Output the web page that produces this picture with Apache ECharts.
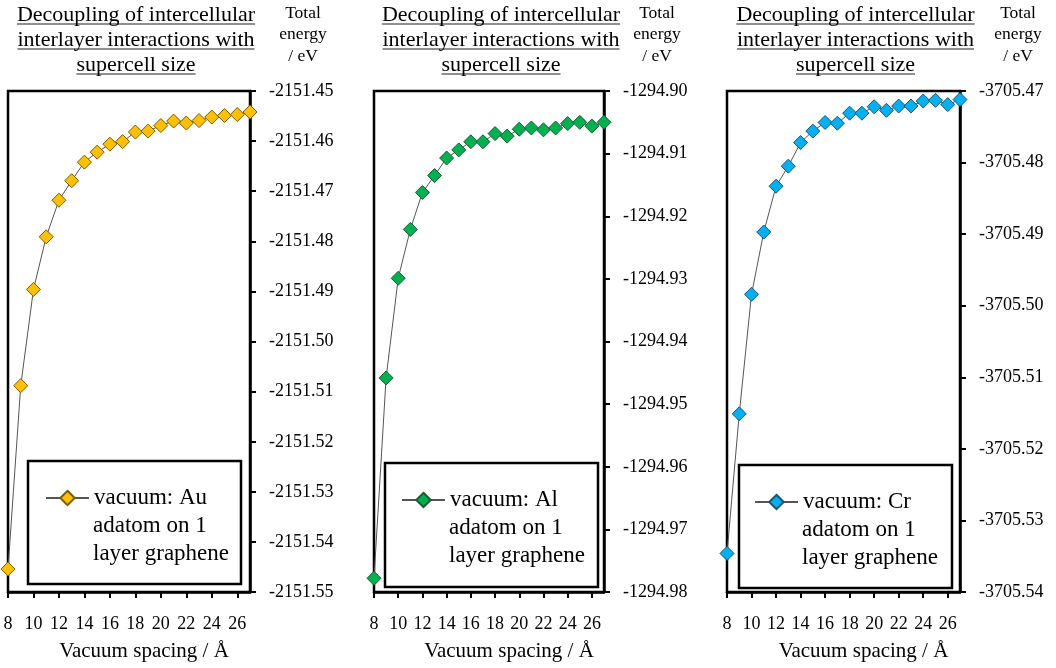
<!DOCTYPE html>
<html>
<head>
<meta charset="utf-8">
<script src="https://cdn.jsdelivr.net/npm/echarts@6/dist/echarts.min.js"></script>
<style>
  html, body { margin: 0; padding: 0; background: #fff; }
  #chart { width: 1056px; height: 668px; }
</style>
</head>
<body>
<div id="chart"></div>
<script>
// Vacuum spacing (Å) and total energies (eV) for each adatom system
const spacing = [8, 9, 10, 11, 12, 13, 14, 15, 16, 17, 18, 19, 20, 21, 22, 23, 24, 25, 26, 27];
const energyAu = [-2151.5454, -2151.5088, -2151.4896, -2151.4791, -2151.4718, -2151.4679, -2151.4642, -2151.4622, -2151.4606, -2151.4601,
                  -2151.4582, -2151.4580, -2151.4569, -2151.4560, -2151.4564, -2151.4559, -2151.4552, -2151.4549, -2151.4547, -2151.4542];
const energyAl = [-1294.9778, -1294.9458, -1294.9299, -1294.9221, -1294.9162, -1294.9135, -1294.9107, -1294.9094, -1294.9081, -1294.9081,
                  -1294.9068, -1294.9072, -1294.9061, -1294.9059, -1294.9062, -1294.9059, -1294.9052, -1294.9050, -1294.9056, -1294.9050];
const energyCr = [-3705.5346, -3705.5151, -3705.4984, -3705.4897, -3705.4833, -3705.4805, -3705.4772, -3705.4756, -3705.4744, -3705.4745,
                  -3705.4731, -3705.4731, -3705.4722, -3705.4727, -3705.4721, -3705.4721, -3705.4714, -3705.4713, -3705.4719, -3705.4712];

// Axis ranges [min, max, step]
const xRange = [8, 27, 2];
const yRangeAu = [-2151.55, -2151.45, 0.01];
const yRangeAl = [-1294.98, -1294.90, 0.01];
const yRangeCr = [-3705.54, -3705.47, 0.01];

// Texts
const titleLines = ['Decoupling of intercellular', 'interlayer interactions with', 'supercell size'];
const yAxisNameLines = ['Total', 'energy', '/ eV'];
const xAxisName = 'Vacuum spacing / Å';
const legendAu = ['vacuum: Au', 'adatom on 1', 'layer graphene'];
const legendAl = ['vacuum: Al', 'adatom on 1', 'layer graphene'];
const legendCr = ['vacuum: Cr', 'adatom on 1', 'layer graphene'];

const FONT = "'Liberation Serif', 'Times New Roman', serif";

// Per-panel layout and styling
const panels = [
  { data: energyAu, yRange: yRangeAu, legend: legendAu, color: '#FFC000', edge: '#7a5c00',
    grid: { left: 8, top: 91, width: 242, height: 502 }, titleX: 136, yNameShift: 53, xNameShift: 15,
    box: [28, 461, 213, 123], iconX: 45, iconY: 498 },
  { data: energyAl, yRange: yRangeAl, legend: legendAl, color: '#00B050', edge: '#1d5a32',
    grid: { left: 374, top: 91, width: 230, height: 504 }, titleX: 501, yNameShift: 53, xNameShift: 20,
    box: [385, 463, 213, 124], iconX: 401, iconY: 500 },
  { data: energyCr, yRange: yRangeCr, legend: legendCr, color: '#00B0F0', edge: '#1d5470',
    grid: { left: 727, top: 91, width: 233, height: 504 }, titleX: 855.5, yNameShift: 58, xNameShift: 20,
    box: [739, 465, 213, 123], iconX: 754, iconY: 502 }
];

const TITLE_SIZE = 22, TITLE_LH = 25, TITLE_TOP = 2.5;
const LEGEND_SIZE = 23, LEGEND_LH = 28;

const measureCtx = document.createElement('canvas').getContext('2d');
function textWidth(str, size) {
  measureCtx.font = size + "px 'Liberation Serif'";
  return measureCtx.measureText(str).width;
}

const grids = [], xAxes = [], yAxes = [], series = [], titles = [], legends = [], graphics = [];

panels.forEach((p, i) => {
  grids.push(Object.assign({ show: true, borderColor: '#000', borderWidth: 2.5, backgroundColor: 'transparent' }, p.grid));

  xAxes.push({
    type: 'value', gridIndex: i, min: xRange[0], max: xRange[1], interval: xRange[2],
    position: 'bottom',
    name: xAxisName, nameLocation: 'middle', nameGap: 43,
    nameTextStyle: { fontFamily: FONT, fontSize: 21, lineHeight: 24, color: '#000',
                     align: 'center', padding: [0, 0, 0, p.xNameShift * 2] },
    axisLine: { show: true, lineStyle: { color: '#000', width: 2.5 } },
    axisTick: { show: true, inside: false, length: 6, lineStyle: { color: '#000', width: 2 } },
    axisLabel: { fontFamily: FONT, fontSize: 18, lineHeight: 20, color: '#000', margin: 22,
                 showMaxLabel: false, showMinLabel: true },
    splitLine: { show: false }
  });

  yAxes.push({
    type: 'value', gridIndex: i, min: p.yRange[0], max: p.yRange[1], interval: p.yRange[2],
    position: 'right',
    name: yAxisNameLines.join('\n'), nameLocation: 'end', nameGap: 24,
    nameTextStyle: { fontFamily: FONT, fontSize: 17.5, lineHeight: 21.5, color: '#000',
                     align: 'center', verticalAlign: 'bottom', padding: [0, 0, 0, p.yNameShift * 2] },
    axisLine: { show: true, lineStyle: { color: '#000', width: 2.5 } },
    axisTick: { show: true, inside: false, length: 6, lineStyle: { color: '#000', width: 2 } },
    axisLabel: { fontFamily: FONT, fontSize: 18, color: '#000', margin: 19,
                 formatter: v => v.toFixed(2) },
    splitLine: { show: false }
  });

  const seriesName = p.legend.join(' ');
  series.push({
    type: 'line', name: seriesName, xAxisIndex: i, yAxisIndex: i,
    data: spacing.map((x, j) => [x, p.data[j]]),
    symbol: 'diamond', symbolSize: 14, showAllSymbol: true, clip: false,
    itemStyle: { color: p.color, borderColor: p.edge, borderWidth: 1 },
    lineStyle: { color: '#555', width: 1 },
    z: 3
  });

  titles.push({
    text: titleLines.join('\n'), left: p.titleX, top: TITLE_TOP, textAlign: 'center', padding: 0,
    textStyle: { fontFamily: FONT, fontSize: TITLE_SIZE, lineHeight: TITLE_LH, fontWeight: 'normal', color: '#000' }
  });
  // underline under every title line
  titleLines.forEach((line, k) => {
    const w = textWidth(line, TITLE_SIZE);
    const y = TITLE_TOP + TITLE_LH * k + TITLE_LH / 2 + 9;
    graphics.push({ type: 'line', shape: { x1: p.titleX - w / 2, y1: y, x2: p.titleX + w / 2, y2: y },
                    style: { stroke: '#222', lineWidth: 1.2 }, silent: true });
  });

  legends.push({
    data: [seriesName], left: p.iconX, top: p.iconY - LEGEND_LH / 2, padding: 0, orient: 'vertical',
    itemWidth: 43, itemHeight: 18, selectedMode: false,
    formatter: () => p.legend[0],
    textStyle: { fontFamily: FONT, fontSize: LEGEND_SIZE, lineHeight: LEGEND_LH, color: '#000' }
  });
  // legend frame and its wrapped lines
  graphics.push({ type: 'rect', shape: { x: p.box[0], y: p.box[1], width: p.box[2], height: p.box[3] },
                  style: { fill: 'none', stroke: '#000', lineWidth: 2.5 }, silent: true });
  p.legend.slice(1).forEach((line, k) => {
    graphics.push({ type: 'text', x: p.iconX + 43 + 5, y: p.iconY + LEGEND_LH * (k + 1),
                    style: { text: line, font: LEGEND_SIZE + "px 'Liberation Serif', serif", fill: '#000',
                             verticalAlign: 'middle', align: 'left' }, silent: true });
  });
});

const chart = echarts.init(document.getElementById('chart'), null, { renderer: 'canvas' });
chart.setOption({
  backgroundColor: '#fff',
  animation: false,
  title: titles,
  legend: legends,
  grid: grids,
  xAxis: xAxes,
  yAxis: yAxes,
  series: series,
  graphic: graphics
});
</script>
</body>
</html>
